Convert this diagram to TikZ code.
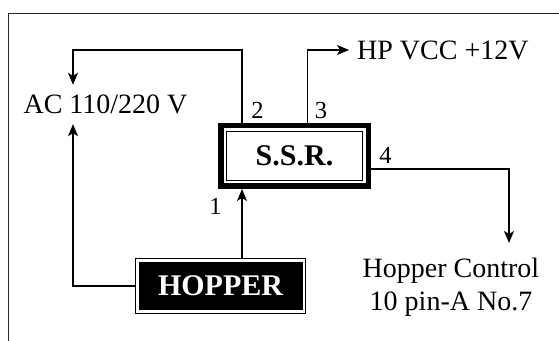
\documentclass[tikz,border=0pt]{standalone}
\usepackage{fontspec}
\setmainfont{Liberation Serif}
\usetikzlibrary{arrows.meta}
\begin{document}
\begin{tikzpicture}[x=1pt,y=1pt,
  conn/.style={line width=1.3pt},
  arr/.style={conn,-{Stealth[length=12pt,width=10pt,inset=3pt]}},
  lbl/.style={font=\fontsize{28}{33}\selectfont, inner sep=0pt},
  pinlbl/.style={font=\fontsize{24.5}{28}\selectfont, inner sep=0pt},
  boldlbl/.style={font=\fontsize{30}{34}\selectfont\bfseries, inner sep=0pt},
  ]
\useasboundingbox (0,0) rectangle (559,340);
\draw[line width=1.5pt, black!85] (8.3,-10) rectangle (580,326.5);
% S.S.R. box
\node[boldlbl, draw, line width=5.5pt, minimum width=147.5pt, minimum height=60.5pt] (ssr) at (294.5,184) {S.S.R.};
\draw[line width=1.6pt] ([shift={(8.4,-8.4)}]ssr.north west) rectangle ([shift={(-8.4,8.4)}]ssr.south east);
% HOPPER box
\node[boldlbl, fill=black, draw=black, double=white, double distance=2.5pt, line width=1.3pt,
      minimum width=166.5pt, minimum height=50.5pt, outer sep=2.55pt, text=white] (hopper) at (220.5,54) {HOPPER};
% text nodes
\node[lbl, text height=19pt, text depth=0pt, inner ysep=10pt, anchor=base] (ac) at (105.5,226) {AC 110/220 V};
\node[lbl, anchor=west, inner xsep=8pt] (hp) at (349,290) {HP VCC +12V};
\node[lbl, align=center, anchor=north, inner ysep=15pt] (hc) at (451,97) {Hopper Control\\10 pin-A No.7};
% pin labels
\node[pinlbl] (n2) at (257.5,229.5) {2};
\node[pinlbl] (n3) at (321,229.5) {3};
\node[pinlbl] (n4) at (385.5,185) {4};
\node[pinlbl] (n1) at (215.5,133.5) {1};
% helper coordinates
\coordinate (c2) at (242,0);
\coordinate (c3) at (307.5,0);
\coordinate (c4) at (509,0);
\coordinate (cL) at (73,0);
\coordinate (top) at (0,290);
% connectors
\draw[arr] (ssr.north -| c2) |- (top -| cL) -- (ac.north -| cL);
\draw[arr] (ssr.north -| c3) |- (hp.west);
\draw[arr] (hopper.west) -| (ac.south -| cL);
\draw[arr] (hopper.north -| c2) -- (ssr.south -| c2);
\draw[arr] ([yshift=-13pt]ssr.east) -| (hc.north -| c4);
\end{tikzpicture}
\end{document}
